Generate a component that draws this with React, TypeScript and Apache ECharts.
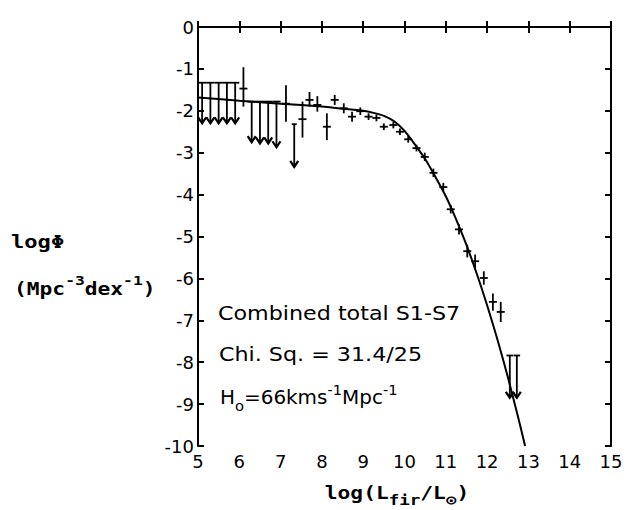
import React, { useEffect, useRef } from "react";
import * as echarts from "echarts";

// Fitted luminosity function (log L, log Phi)
const fitLogL = [5, 6, 7, 8, 8.5, 9, 9.25, 9.5, 9.75, 10, 10.25, 10.5, 10.75, 11, 11.25, 11.5, 11.75, 12, 12.25, 12.5, 12.75, 12.92];
const fitLogPhi = [-1.68, -1.76, -1.83, -1.9, -1.95, -2.0, -2.05, -2.12, -2.25, -2.48, -2.8, -3.15, -3.58, -4.04, -4.59, -5.2, -5.89, -6.64, -7.46, -8.35, -9.31, -10];

// Measured points with error bars
const ptLogL = [6.1, 7.13, 7.53, 7.7, 7.89, 8.12, 8.31, 8.53, 8.73, 8.93, 9.13, 9.32, 9.5, 9.73, 9.89, 10.09, 10.29, 10.49, 10.7, 10.94, 11.12, 11.32, 11.52, 11.71, 11.92, 12.14, 12.33];
const ptLogPhi = [-1.47, -1.83, -2.2, -1.74, -1.86, -2.38, -1.74, -1.94, -2.14, -2.01, -2.14, -2.17, -2.38, -2.34, -2.5, -2.68, -2.89, -3.1, -3.48, -3.82, -4.35, -4.83, -5.35, -5.59, -5.99, -6.56, -6.8];
const ptLow = [-1.9, -2.26, -2.64, -1.9, -2.02, -2.7, -1.86, -2.06, -2.26, -2.1, -2.22, -2.25, -2.46, -2.42, -2.58, -2.76, -2.97, -3.2, -3.58, -3.92, -4.45, -4.95, -5.5, -5.75, -6.15, -6.77, -7.04];
const ptHigh = [-0.96, -1.39, -1.78, -1.55, -1.65, -2.06, -1.62, -1.82, -2.02, -1.92, -2.06, -2.09, -2.3, -2.26, -2.42, -2.6, -2.81, -3.0, -3.38, -3.72, -4.25, -4.71, -5.2, -5.43, -5.83, -6.36, -6.56];

// Upper limits
const ulLogL = [5.1, 5.3, 5.5, 5.7, 5.9, 6.3, 6.5, 6.7, 6.9, 7.33, 12.55, 12.72];
const ulTop = [-1.33, -1.33, -1.33, -1.33, -1.33, -1.78, -1.78, -1.78, -1.78, -2.32, -7.84, -7.84];
const ulBottom = [-2.3, -2.3, -2.3, -2.3, -2.3, -2.75, -2.78, -2.78, -2.87, -3.34, -8.85, -8.85];
const ulBinHalf = [0.1, 0.1, 0.1, 0.1, 0.1, 0.1, 0.1, 0.1, 0.1, 0.06, 0.08, 0.08];

const xTicks = [5, 6, 7, 8, 9, 10, 11, 12, 13, 14, 15];
const yTicks = [0, -1, -2, -3, -4, -5, -6, -7, -8, -9, -10];

const LABEL_FONT = "'DejaVu Sans', sans-serif";
const MONO = "'DejaVu Sans Mono', 'Liberation Mono', monospace";

export default function App() {
  const ref = useRef<HTMLDivElement>(null);
  useEffect(() => {
    if (!ref.current) return;
    const chart = echarts.init(ref.current, null, { renderer: "svg" });
    const axisLine = { show: true, lineStyle: { color: "#000", width: 2 } };
    const tickStyle = { show: true, inside: true, length: 6, lineStyle: { color: "#000", width: 2 } };
    const option: any = {
      animation: false,
      backgroundColor: "#fff",
      grid: { left: 198, right: 21, top: 27, bottom: 64, containLabel: false },
      xAxis: [
        {
          type: "value", min: xTicks[0], max: xTicks[xTicks.length - 1], interval: 1,
          position: "bottom", axisLine, axisTick: tickStyle, splitLine: { show: false },
          axisLabel: { color: "#000", fontSize: 18, fontFamily: LABEL_FONT, margin: 6 },
        },
        {
          type: "value", min: xTicks[0], max: xTicks[xTicks.length - 1], interval: 1,
          position: "top", axisLine, axisTick: tickStyle, splitLine: { show: false },
          axisLabel: { show: false },
        },
      ],
      yAxis: [
        {
          type: "value", min: yTicks[yTicks.length - 1], max: yTicks[0], interval: 1,
          position: "left", axisLine, axisTick: tickStyle, splitLine: { show: false },
          axisLabel: { color: "#000", fontSize: 18, fontFamily: LABEL_FONT, margin: 4 },
        },
        {
          type: "value", min: yTicks[yTicks.length - 1], max: yTicks[0], interval: 1,
          position: "right", axisLine, axisTick: tickStyle, splitLine: { show: false },
          axisLabel: { show: false },
        },
      ],
      series: [
        {
          type: "line",
          data: fitLogL.map((x, i) => [x, fitLogPhi[i]]),
          showSymbol: false,
          smooth: 0.3,
          lineStyle: { color: "#000", width: 2 },
          z: 3,
        },
        {
          type: "custom",
          data: ptLogL.map((x, i) => [x, ptLogPhi[i], ptLow[i], ptHigh[i]]),
          renderItem: (params: any, api: any) => {
            const c = api.coord([api.value(0), api.value(1)]);
            const lo = api.coord([api.value(0), api.value(2)]);
            const hi = api.coord([api.value(0), api.value(3)]);
            const st = { stroke: "#000", lineWidth: 1.8 };
            return {
              type: "group",
              children: [
                { type: "line", shape: { x1: c[0], y1: lo[1], x2: c[0], y2: hi[1] }, style: st },
                { type: "line", shape: { x1: c[0] - 4, y1: c[1], x2: c[0] + 4, y2: c[1] }, style: st },
              ],
            };
          },
          z: 4,
        },
        {
          type: "custom",
          data: ulLogL.map((x, i) => [x, ulTop[i], ulBottom[i], ulBinHalf[i]]),
          renderItem: (params: any, api: any) => {
            const x = api.value(0);
            const h = api.value(3);
            const t = api.coord([x, api.value(1)]);
            const b = api.coord([x, api.value(2)]);
            const l = api.coord([x - h, api.value(1)]);
            const r = api.coord([x + h, api.value(1)]);
            const st = { stroke: "#000", lineWidth: 1.8, fill: "none" };
            return {
              type: "group",
              children: [
                { type: "line", shape: { x1: l[0], y1: t[1], x2: r[0], y2: t[1] }, style: st },
                { type: "line", shape: { x1: t[0], y1: t[1], x2: b[0], y2: b[1] }, style: st },
                {
                  type: "polyline",
                  shape: { points: [[b[0] - 4, b[1] - 6], [b[0], b[1]], [b[0] + 4, b[1] - 6]] },
                  style: { stroke: "#000", lineWidth: 2.2, fill: "none" },
                },
              ],
            };
          },
          z: 4,
        },
      ],
      graphic: [
        {
          type: "text", x: 11, y: 242, scaleX: 1.3,
          style: { text: "logΦ", font: `bold 17px ${MONO}`, fill: "#000", textVerticalAlign: "middle" },
        },
        {
          type: "text", x: 14, y: 286, scaleX: 1.25,
          style: {
            text: "{a|(Mpc}{s|-3}{a|dex}{s|-1}{a|)}",
            textVerticalAlign: "middle",
            rich: {
              a: { fontSize: 17, fontWeight: "bold", fontFamily: MONO, lineHeight: 24, verticalAlign: "bottom", fill: "#000" },
              s: { fontSize: 13, fontWeight: "bold", fontFamily: MONO, lineHeight: 13, verticalAlign: "top", fill: "#000" },
            },
          },
        },
        {
          type: "text", x: 397, y: 496, scaleX: 1.25,
          style: {
            text: "{a|log(L}{b|fir}{a|/L}{b|⊙}{a|)}",
            textAlign: "center",
            textVerticalAlign: "middle",
            rich: {
              a: { fontSize: 17, fontWeight: "bold", fontFamily: MONO, lineHeight: 22, verticalAlign: "top", fill: "#000" },
              b: { fontSize: 14, fontWeight: "bold", fontFamily: MONO, lineHeight: 14, verticalAlign: "bottom", fill: "#000" },
            },
          },
        },
        {
          type: "text", x: 218, y: 314, scaleX: 1.17,
          style: { text: "Combined total S1-S7", font: `19px ${LABEL_FONT}`, fill: "#000", textVerticalAlign: "middle" },
        },
        {
          type: "text", x: 219, y: 355, scaleX: 1.17,
          style: { text: "Chi. Sq. = 31.4/25", font: `19px ${LABEL_FONT}`, fill: "#000", textVerticalAlign: "middle" },
        },
        {
          type: "text", x: 220, y: 398, scaleX: 1.05,
          style: {
            text: "{a|H}{b|o}{a|=66kms}{s|-1}{a|Mpc}{s|-1}",
            textVerticalAlign: "middle",
            rich: {
              a: { fontSize: 19, fontFamily: LABEL_FONT, lineHeight: 30, verticalAlign: "middle", fill: "#000" },
              b: { fontSize: 14, fontFamily: LABEL_FONT, lineHeight: 14, verticalAlign: "bottom", fill: "#000" },
              s: { fontSize: 14, fontFamily: LABEL_FONT, lineHeight: 14, verticalAlign: "top", fill: "#000" },
            },
          },
        },
      ],
    };
    chart.setOption(option);
    return () => chart.dispose();
  }, []);
  return <div ref={ref} style={{ position: "fixed", left: 0, top: 0, width: 632, height: 510 }} />;
}
